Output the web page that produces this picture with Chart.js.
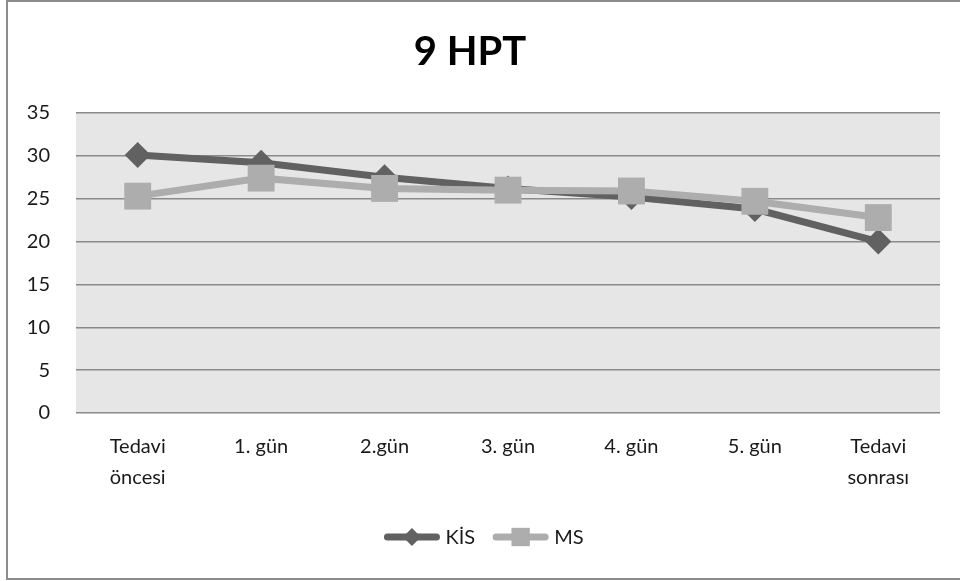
<!DOCTYPE html>
<html>
<head>
<meta charset="utf-8">
<script src="https://cdn.jsdelivr.net/npm/chart.js@4"></script>
<style>
    html, body { margin: 0; padding: 0; background: #fff; overflow: hidden; }
    #frame {
        position: absolute; left: 6px; top: 0; width: 960px; height: 576px;
        border: 2px solid #8c8c8c; border-right: none;
    }
    #wrap { position: absolute; left: 0; top: 0; width: 960px; height: 581px; }
</style>
</head>
<body>
<div id="frame"></div>
<div id="wrap"><canvas id="hptChart"></canvas></div>
<script>
const categories = [['Tedavi', 'öncesi'], '1. gün', '2.gün', '3. gün', '4. gün', '5. gün', ['Tedavi', 'sonrası']];
const kisValues = [30.1, 29.2, 27.5, 26.2, 25.2, 23.8, 20.0];
const msValues = [25.3, 27.4, 26.2, 26.0, 25.9, 24.7, 22.8];
const yTicks = [0, 5, 10, 15, 20, 25, 30, 35];

const FONT = 'Lato, "Open Sans", sans-serif';

// grey plot background behind the grid
const plotBackground = {
    id: 'plotBackground',
    beforeDraw(chart) {
        const { ctx, chartArea: a } = chart;
        ctx.save();
        ctx.fillStyle = '#e6e6e6';
        ctx.fillRect(a.left, a.top, a.right - a.left, a.bottom - a.top);
        ctx.restore();
    }
};

// legend drawn as line + marker, like the series themselves
const lineLegend = {
    id: 'lineLegend',
    afterDraw(chart) {
        const { ctx } = chart;
        const y = chart.height - 44;
        const items = chart.data.datasets.map(ds => ({
            text: ds.label, color: ds.borderColor, style: ds.pointStyle
        }));
        ctx.save();
        ctx.font = '20px ' + FONT;
        const lineW = 55, gap = 6, spacing = 18;
        let total = 0;
        items.forEach((it, i) => {
            it.w = lineW + gap + ctx.measureText(it.text).width;
            total += it.w + (i ? spacing : 0);
        });
        let x = chart.width / 2 - total / 2 + 4;
        items.forEach(it => {
            ctx.strokeStyle = it.color;
            ctx.lineWidth = 7;
            ctx.lineCap = 'round';
            ctx.beginPath();
            ctx.moveTo(x + 3, y);
            ctx.lineTo(x + lineW - 3, y);
            ctx.stroke();
            ctx.fillStyle = it.color;
            Chart.helpers.drawPoint(ctx, {
                pointStyle: it.style,
                radius: it.style === 'rect' ? 13 : 9,
                borderWidth: 0
            }, x + lineW / 2, y);
            ctx.fillStyle = '#1a1a1a';
            ctx.textBaseline = 'middle';
            ctx.fillText(it.text, x + lineW + gap, y + 1);
            x += it.w + spacing;
        });
        ctx.restore();
    }
};

new Chart(document.getElementById('hptChart'), {
    type: 'line',
    data: {
        labels: categories,
        datasets: [
            {
                label: 'KİS',
                data: kisValues,
                borderColor: '#616161',
                backgroundColor: '#616161',
                borderWidth: 7,
                pointStyle: 'rectRot',
                pointRadius: 13,
                pointBorderWidth: 0,
                tension: 0,
                order: 2
            },
            {
                label: 'MS',
                data: msValues,
                borderColor: '#adadad',
                backgroundColor: '#adadad',
                borderWidth: 7,
                pointStyle: 'rect',
                pointRadius: 19,
                pointBorderWidth: 0,
                tension: 0,
                order: 1
            }
        ]
    },
    options: {
        responsive: true,
        maintainAspectRatio: false,
        animation: false,
        layout: { padding: { left: 0, right: 20, top: 0, bottom: 70 } },
        plugins: {
            legend: { display: false },
            tooltip: { enabled: false },
            title: {
                display: true,
                text: '9 HPT',
                color: '#000',
                font: { family: FONT, size: 40, weight: 'bold' },
                padding: { top: 28, bottom: 37 }
            }
        },
        scales: {
            x: {
                offset: true,
                grid: { display: false, drawTicks: false },
                border: { display: false },
                ticks: {
                    color: '#1a1a1a',
                    font: { family: FONT, size: 20, lineHeight: 1.55 },
                    padding: 18,
                    maxRotation: 0,
                    autoSkip: false
                }
            },
            y: {
                min: 0,
                max: 35,
                afterBuildTicks: scale => { scale.ticks = yTicks.map(v => ({ value: v })); },
                afterFit: scale => { scale.width = 76; },
                grid: { color: '#8a8a8a', lineWidth: 1.5, drawTicks: false },
                border: { display: false },
                ticks: {
                    color: '#1a1a1a',
                    font: { family: FONT, size: 20 },
                    padding: 26
                }
            }
        }
    },
    plugins: [plotBackground, lineLegend]
});
</script>
</body>
</html>
